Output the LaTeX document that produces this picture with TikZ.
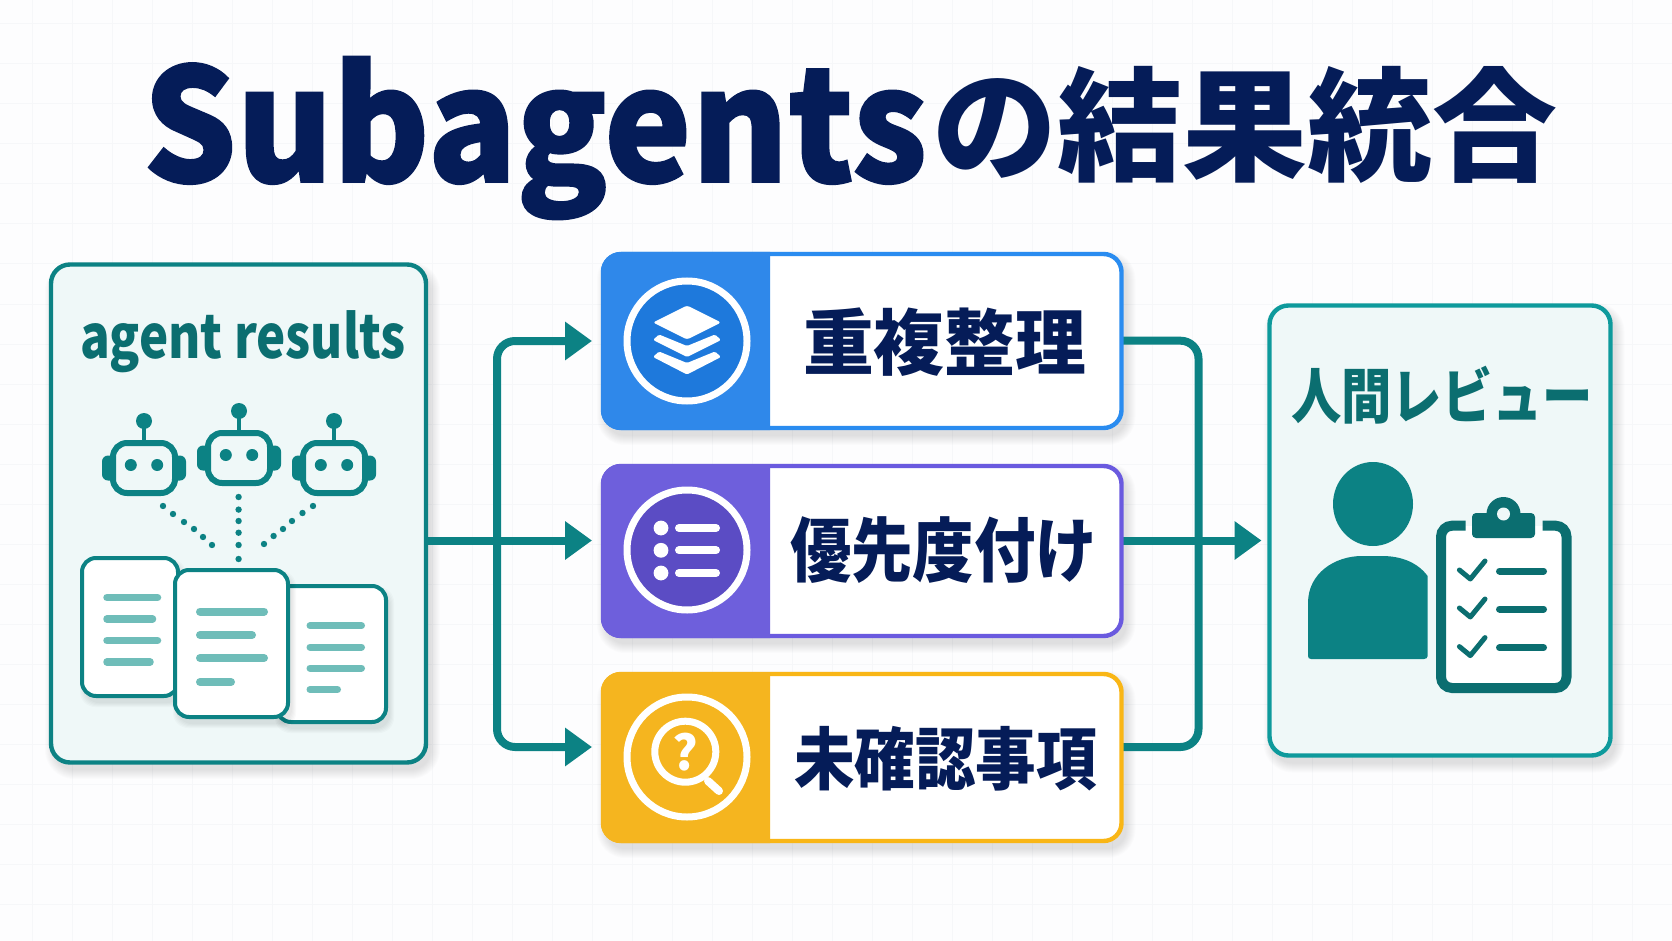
\documentclass[tikz,border=0pt]{standalone}
\usepackage{fontspec}
\usepackage{graphicx}
\usetikzlibrary{arrows.meta}
\newfontfamily\jpf{Noto Sans CJK JP}
\newfontfamily\jpx{Noto Sans CJK JP}[BoldFeatures={FakeBold=1.2}]
\definecolor{bgc}{HTML}{FDFDFE}
\definecolor{gridc}{HTML}{F6F7F9}
\definecolor{navy}{HTML}{051C58}
\definecolor{teal}{HTML}{0C8284}
\definecolor{tealD}{HTML}{0B6E70}
\definecolor{tealL}{HTML}{0E9A9C}
\definecolor{panelc}{HTML}{EFF8F8}
\definecolor{docl}{HTML}{6FBDB9}
\definecolor{blueB}{HTML}{2A8CF0}
\definecolor{blueF}{HTML}{2F88EA}
\definecolor{blueD}{HTML}{1E79DC}
\definecolor{purB}{HTML}{6A5ADF}
\definecolor{purF}{HTML}{6E5FDC}
\definecolor{purD}{HTML}{5B4CC4}
\definecolor{yelB}{HTML}{F9B616}
\definecolor{yelF}{HTML}{F5B51F}
\pgfdeclarelayer{shadowl}
\pgfdeclarelayer{connl}
\pgfsetlayers{shadowl,connl,main}
\newcommand\fitw[2]{\resizebox{#1}{\height}{#2}}
\newcommand\softshadow[5]{% x1 y1 x2 y2 radius
  \begin{pgfonlayer}{shadowl}
  \foreach \i in {1,...,10}{
    \fill[black,opacity=0.011,rounded corners=#5+\i*1pt]
      (#1-\i+4,#2-\i+7) rectangle (#3+\i+4,#4+\i+7);
  }
  \end{pgfonlayer}}
\newcommand\robot[2]{%
  \begin{scope}[shift={(#1,#2)}]
    \draw[teal,line width=4pt] (0,-47) -- (0,-28);
    \fill[teal] (0,-47) circle (8);
    \fill[teal,rounded corners=6pt] (-42,-12.5) rectangle (42,12.5);
    \draw[teal,line width=6pt,fill=panelc,rounded corners=14pt] (-31,-25) rectangle (31,25);
    \fill[teal] (-13.2,-3) circle (6) (13.2,-3) circle (6);
  \end{scope}}
\tikzset{
  panelbox/.style={draw=teal,fill=panelc,line width=4.4pt,rounded corners=19pt,inner sep=0pt,outer sep=0pt},
  stepbox/.style={fill=white,line width=4.4pt,rounded corners=18pt,inner sep=0pt,outer sep=0pt},
  docbox/.style={draw=teal,fill=white,line width=4pt,rounded corners=14pt,inner sep=0pt,outer sep=0pt},
  conn/.style={draw=teal,line width=8pt,rounded corners=18pt},
  tipped/.style={-{Triangle[length=27pt,width=37pt]}},
  txt/.style={inner sep=0pt,outer sep=0pt,anchor=base west},
  docline/.style={docl,line width=7.5pt,line cap=round},
  clipline/.style={tealD,line width=7pt,line cap=round},
  checkm/.style={tealD,line width=5pt,line cap=round,line join=round},
}
\begin{document}
\begin{tikzpicture}[x=1pt,y=-1pt]
\useasboundingbox (0,0) rectangle (1672,941);
\begin{pgfonlayer}{shadowl}
\fill[bgc] (0,0) rectangle (1672,941);
\foreach \g in {32,72,...,1672} \draw[gridc,line width=1pt] (\g,0) -- (\g,941);
\foreach \g in {24,64,...,941} \draw[gridc,line width=1pt] (0,\g) -- (1672,\g);
\end{pgfonlayer}

% title
\node[txt,text=navy] (titleA) at (143,182) {\fontsize{157}{157}\jpx\bfseries\fitw{784pt}{Subagents}};
\node[txt,text=navy] (titleB) at (932,172) {\fontsize{123}{123}\jpf\bfseries\fitw{625pt}{の結果統合}};

% left panel
\softshadow{51}{265}{426}{762}{19}
\node[panelbox,minimum width=375pt,minimum height=498pt] (leftp) at (238.5,513.5) {};
\node[txt,text=tealD] (leftt) at (80,358) {\fontsize{60}{60}\jpf\bfseries\fitw{326pt}{agent results}};
\robot{144}{468}
\robot{239}{458}
\robot{334}{468}
\foreach \a/\b in {163/506,173/514,184/522,194/529,203/537,212/545,
  238.6/497,238.6/509.6,238.6/521,238.6/532.7,238.6/545,238.6/559,
  313/506,302.5/513,292/521,283/529,273.6/536,264/544}
  \fill[teal] (\a,\b) circle (3.2);

% documents
\foreach \i in {1,...,5}{
  \fill[black,opacity=0.02,rounded corners=15pt] (82-\i+3,558-\i+6) rectangle (178+\i+3,696+\i+6);
  \fill[black,opacity=0.02,rounded corners=15pt] (277-\i+3,586-\i+6) rectangle (386+\i+3,722+\i+6);
}
\node[docbox,minimum width=96pt,minimum height=138pt] (docA) at (130,627) {};
\node[docbox,minimum width=109pt,minimum height=136pt] (docC) at (331.5,654) {};
\foreach \i in {1,...,5}
  \fill[black,opacity=0.02,rounded corners=15pt] (175-\i+3,570-\i+6) rectangle (288+\i+3,717+\i+6);
\node[docbox,minimum width=113pt,minimum height=147pt] (docB) at (231.5,643.5) {};
\foreach \e/\y in {161/597.5,156/619,161/640.5,153.5/662} \draw[docline] (107,\y) -- (\e-3.5,\y);
\foreach \e/\y in {268/611.5,256/635,268/658,235/682} \draw[docline,line width=8pt] (200,\y) -- (\e-4,\y);
\foreach \e/\y in {365/625.7,365/647,365/668,341/689.5} \draw[docline,line width=7pt] (310,\y) -- (\e-3.5,\y);

% step boxes
\softshadow{603}{254}{1121.5}{428}{18}
\softshadow{603}{466}{1121.5}{636}{18}
\softshadow{603}{674}{1121.5}{841}{18}
\node[stepbox,draw=blueB,minimum width=518.5pt,minimum height=174pt] (boxa) at (862.25,341) {};
\node[stepbox,draw=purB,minimum width=518.5pt,minimum height=170pt] (boxb) at (862.25,551) {};
\node[stepbox,draw=yelB,minimum width=518.5pt,minimum height=167pt] (boxc) at (862.25,757.5) {};
\fill[blueF] (770,252) [rounded corners=20pt] -- (601,252) -- (601,430) [sharp corners] -- (770,430) -- cycle;
\fill[purF] (770,464) [rounded corners=20pt] -- (601,464) -- (601,638) [sharp corners] -- (770,638) -- cycle;
\fill[yelF] (770,672) [rounded corners=20pt] -- (601,672) -- (601,843) [sharp corners] -- (770,843) -- cycle;

% icon: layers
\fill[blueD] (687,341) circle (60);
\draw[white,line width=7pt] (687,341) circle (60);
\fill[white,rounded corners=2.5pt] (687,305.5) -- (721,322.5) -- (687,339.5) -- (653,322.5) -- cycle;
\fill[white,rounded corners=1.5pt] (659,334.5) -- (653,340) -- (687,357) -- (721,340) -- (715,334.5) -- (687,346) -- cycle;
\fill[white,rounded corners=1.5pt] (659,351.5) -- (653,357) -- (687,374.5) -- (721,357) -- (715,351.5) -- (687,363) -- cycle;

% icon: list
\fill[purD] (687,550) circle (60);
\draw[white,line width=7pt] (687,550) circle (60);
\foreach \y in {528,550.3,573}{
  \fill[white] (661,\y) circle (7.4);
  \draw[white,line width=8pt,line cap=round] (679,\y) -- (716,\y);
}

% icon: magnifier
\draw[white,line width=7pt] (687,757) circle (60);
\draw[white,line width=7pt] (685.3,751.7) circle (30.5);
\draw[white,line width=8pt,line cap=round] (708,781) -- (719,791);
\node[inner sep=0pt,text=white] (qm) at (685.5,752.5) {\fontsize{48}{48}\jpf\bfseries ?};

% box texts
\node[txt,text=navy] (ta) at (803,369) {\fontsize{72}{72}\jpf\bfseries\fitw{283pt}{重複整理}};
\node[txt,text=navy] (tb) at (790,576) {\fontsize{70}{70}\jpf\bfseries\fitw{307pt}{優先度付け}};
\node[txt,text=navy] (tc) at (794,784) {\fontsize{68}{68}\jpf\bfseries\fitw{303pt}{未確認事項}};

% right panel
\softshadow{1269.5}{305.5}{1610.5}{755.5}{19}
\node[panelbox,draw=tealL,minimum width=341pt,minimum height=450pt] (rightp) at (1440,530.5) {};
\node[txt,text=tealD] (rightt) at (1291,418) {\fontsize{60}{60}\jpf\bfseries\fitw{302pt}{人間レビュー}};
% person
\fill[teal] (1373,504) ellipse (40 and 42);
\fill[teal] (1308,603) .. controls (1308,573) and (1335,556) .. (1362,556) -- (1382,556)
  .. controls (1402,556) and (1418,563) .. (1427.6,576) -- (1427.6,656)
  .. controls (1427.6,658) and (1426,659) .. (1424,659) -- (1311,659)
  .. controls (1309,659) and (1308,658) .. (1308,656) -- cycle;
% clipboard
\fill[white,rounded corners=6pt] (1441,526) rectangle (1566.5,688);
\draw[tealD,line width=10pt,rounded corners=11pt] (1465.6,525.7) -- (1441,525.7) -- (1441,688) -- (1566.5,688) -- (1566.5,525.7) -- (1542.5,525.7);
\fill[tealD] (1503.5,514) circle (17);
\fill[tealD,rounded corners=4pt] (1472,513) rectangle (1535,538);
\fill[panelc] (1503.5,514) circle (6.5);
\foreach \d in {0,38,76.6}{
  \draw[checkm] (1459.4,570+\d) -- (1470.3,579+\d) -- (1485,561+\d);
}
\foreach \y in {571,609,647.7} \draw[clipline] (1499.5,\y) -- (1543.5,\y);

% connectors
\coordinate (busL) at (497,540.5);
\coordinate (busR) at (1198.5,340.7);
\coordinate (outLeft) at (leftp.east |- busL);
\coordinate (inA) at (boxa.west |- 0,341);
\coordinate (inB) at (boxb.west |- busL);
\coordinate (inC) at (boxc.west |- 0,747);
\coordinate (outA) at (boxa.east |- busR);
\coordinate (outB) at (boxb.east |- busL);
\coordinate (outC) at (boxc.east |- 0,747);
\coordinate (inRight) at (rightp.west |- busL);
\begin{pgfonlayer}{connl}
\draw[conn,tipped,shorten >=11pt] (outLeft) -- (inB);
\draw[conn,tipped,shorten >=11pt] (busL) |- (inA);
\draw[conn,tipped,shorten >=11pt] (busL) |- (inC);
\draw[conn] (outA) -| (busR |- outC) -- (outC);
\draw[conn,tipped,shorten >=8pt] (outB) -- (inRight);
\end{pgfonlayer}
\end{tikzpicture}
\end{document}
